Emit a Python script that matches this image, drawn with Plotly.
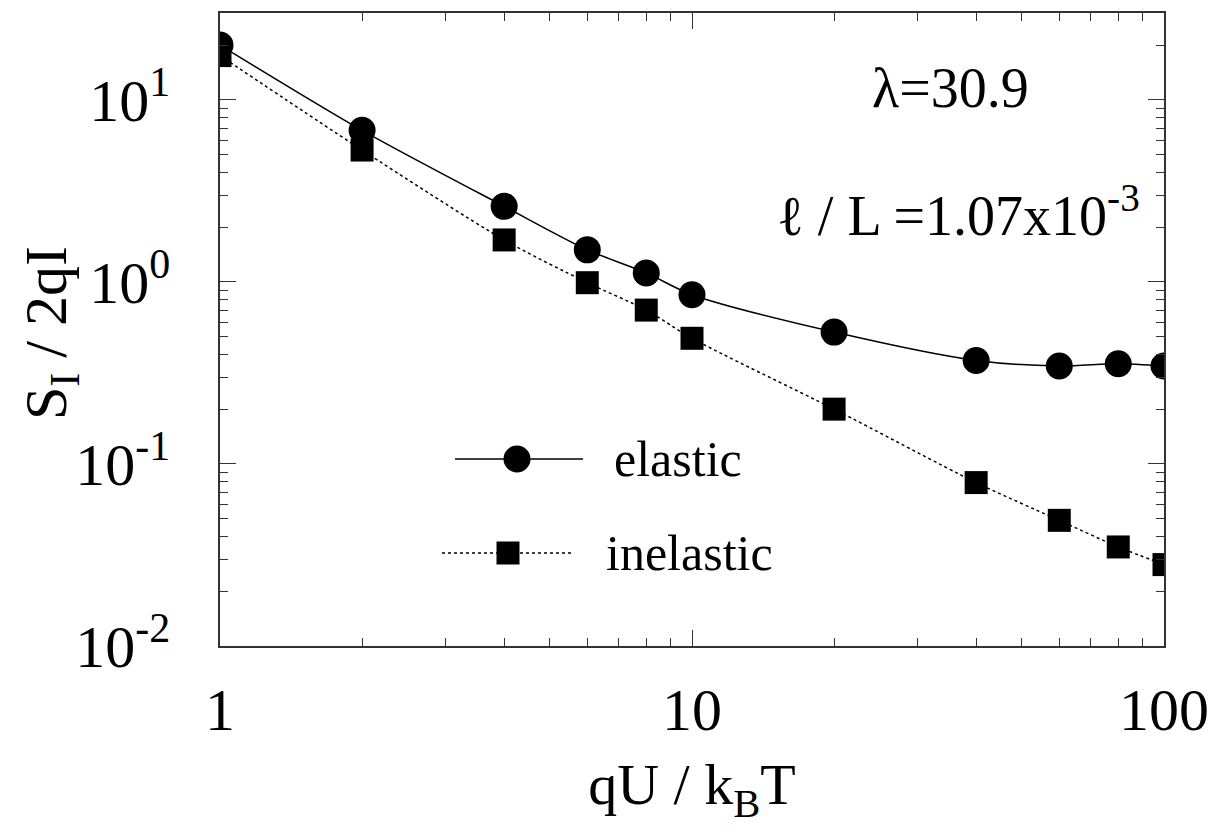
import plotly.graph_objects as go

# Reduced voltage qU/k_BT
qU = [1, 2, 4, 6, 8, 10, 20, 40, 60, 80, 100]
# Noise ratio S_I / 2qI
elastic = [20.0, 6.8, 2.6, 1.5, 1.12, 0.85, 0.53, 0.37, 0.345, 0.355, 0.345]
inelastic = [17.5, 5.3, 1.7, 0.99, 0.70, 0.49, 0.20, 0.079, 0.049, 0.035, 0.028]

x_major = [1, 10, 100]
x_major_text = ["1", "10", "100"]
y_major = [0.01, 0.1, 1, 10]
y_major_text = ["10<sup>-2</sup>", "10<sup>-1</sup>", "10<sup>0</sup>", "10<sup>1</sup>"]

FONT = "Liberation Serif, Times New Roman, serif"

x_minor = [m * 10 ** k for k in range(0, 2) for m in range(2, 10)]
y_minor = [m * 10 ** k for k in range(-2, 2) for m in range(2, 10)]

fig = go.Figure()
fig.add_trace(go.Scatter(
    x=qU, y=elastic, mode="lines+markers", name="elastic",
    line=dict(color="black", width=1.5, shape="spline", smoothing=0.8),
    marker=dict(symbol="circle", size=27, color="black"),
))
fig.add_trace(go.Scatter(
    x=qU, y=inelastic, mode="lines+markers", name="inelastic",
    line=dict(color="black", width=1.5, dash="dot", shape="spline", smoothing=0.8),
    marker=dict(symbol="square", size=23, color="black"),
))

axis_common = dict(
    showline=True, linecolor="#333", linewidth=1.5, mirror="allticks",
    ticks="inside", ticklen=16, tickwidth=1.2, tickcolor="#333",
    showgrid=False, zeroline=False, automargin=False,
    tickfont=dict(family=FONT, size=60, color="black"),
)

fig.update_xaxes(
    type="log", range=[0, 2], tickmode="array", tickvals=x_major, ticktext=x_major_text,
    ticklabelstandoff=10,
    minor=dict(tickmode="array", tickvals=x_minor, ticks="inside", ticklen=8, tickcolor="#333", tickwidth=1.2),
    title=dict(text="qU / k<sub>B</sub>T", font=dict(family=FONT, size=58, color="black"), standoff=22),
    **axis_common,
)
fig.update_yaxes(
    type="log", range=[-2, 1.477], tickmode="array", tickvals=y_major, ticktext=y_major_text,
    ticklabelstandoff=36,
    minor=dict(tickmode="array", tickvals=y_minor, ticks="inside", ticklen=8, tickcolor="#333", tickwidth=1.2),
    **axis_common,
)

# Legend keys and labels placed in pixel-relative paper coordinates
W, H = 1217, 838
L, R, T, B = 220, 53, 13, 192
pw, ph = W - L - R, H - T - B


def px(xp):
    return (xp - L) / pw


def py(yp):
    return 1 - (yp - T) / ph


shapes = [
    dict(type="line", xref="paper", yref="paper", x0=px(455), x1=px(583), y0=py(459), y1=py(459),
         line=dict(color="black", width=1.5)),
    dict(type="circle", xref="paper", yref="paper", x0=px(517 - 13.5), x1=px(517 + 13.5),
         y0=py(459 + 13.5), y1=py(459 - 13.5), fillcolor="black", line=dict(color="black", width=0)),
    dict(type="line", xref="paper", yref="paper", x0=px(442), x1=px(572), y0=py(553), y1=py(553),
         line=dict(color="black", width=1.5, dash="dot")),
    dict(type="rect", xref="paper", yref="paper", x0=px(508 - 11.5), x1=px(508 + 11.5),
         y0=py(553 + 11.5), y1=py(553 - 11.5), fillcolor="black", line=dict(color="black", width=0)),
]

annotations = [
    dict(text="S<sub>I</sub> / 2qI", xref="paper", yref="paper", x=px(50), y=py(333),
         xanchor="center", yanchor="middle", textangle=-90,
         showarrow=False, font=dict(family=FONT, size=60, color="black")),
    dict(text="elastic", xref="paper", yref="paper", x=px(612), y=py(459), xanchor="left", yanchor="middle",
         showarrow=False, font=dict(family=FONT, size=50, color="black")),
    dict(text="inelastic", xref="paper", yref="paper", x=px(604), y=py(553), xanchor="left", yanchor="middle",
         showarrow=False, font=dict(family=FONT, size=50, color="black")),
    dict(text="λ=30.9", xref="paper", yref="paper", x=px(950), y=py(88), xanchor="center", yanchor="middle",
         showarrow=False, font=dict(family=FONT, size=56, color="black")),
    dict(text="ℓ / L =1.07x10<sup>-3</sup>", xref="paper", yref="paper", x=px(1142), y=py(211),
         xanchor="right", yanchor="middle",
         showarrow=False, font=dict(family=FONT, size=56, color="black")),
]

fig.update_layout(
    width=W, height=H,
    margin=dict(l=L, r=R, t=T, b=B),
    paper_bgcolor="white", plot_bgcolor="white",
    showlegend=False,
    shapes=shapes, annotations=annotations,
    font=dict(family=FONT, color="black"),
)

fig.write_html("out.html")
